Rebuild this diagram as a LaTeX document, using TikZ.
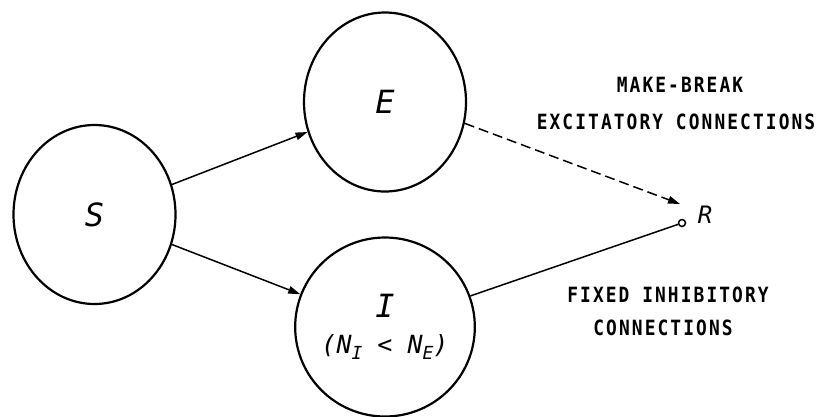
\documentclass[tikz,border=0pt]{standalone}
\usepackage{fontspec}
\newfontfamily\capfont{DejaVu Sans Mono}[LetterSpace=10,FakeStretch=0.85]
\newfontfamily\labfont{DejaVu Sans Mono}
\usetikzlibrary{shapes.geometric,arrows.meta}
\newcommand\lowsub[1]{\raisebox{-6pt}{\fontsize{18}{18}\selectfont #1}}
\begin{document}
\begin{tikzpicture}[x=1pt,y=-1pt,
  blob/.style={draw, ellipse, line width=2.2pt, minimum width=162pt, minimum height=179pt,
    inner sep=0pt, font=\labfont\itshape\fontsize{32}{32}\selectfont},
  conn/.style={line width=1.5pt},
  tip/.style={-{Triangle[length=12pt,width=7.5pt]}},
  caption/.style={font=\capfont\bfseries\fontsize{21}{22}\selectfont, inner sep=0pt}]
\useasboundingbox (0,0) rectangle (821,416);
\node[blob] (S) at (94.5,214.5) {S};
\node[blob] (E) at (385,102) {E};
\node[blob, align=center] (I) at (385,327)
  {I\\[4pt]{\fontsize{25}{25}\selectfont (N\lowsub{I} < N\lowsub{E})}};
\node[draw, circle, line width=1.5pt, minimum size=7pt, inner sep=0pt] (R) at (682,223) {};
\node[font=\labfont\itshape\fontsize{24}{24}\selectfont, inner sep=0pt] (Rl) at (705,215) {R};
\coordinate (Rin) at (680,204);
\draw[conn,tip] (S) -- (E);
\draw[conn,tip] (S) -- (I);
\draw[conn,tip,dash pattern=on 10pt off 5pt] (E.-15) -- (Rin);
\draw[conn] (I.20) -- (R);
\node[caption] (mb) at (680,85) {MAKE-BREAK};
\node[caption] (ex) at (676,122) {EXCITATORY CONNECTIONS};
\node[caption] (fi) at (668,295) {FIXED INHIBITORY};
\node[caption] (co) at (663,328) {CONNECTIONS};
\end{tikzpicture}
\end{document}
